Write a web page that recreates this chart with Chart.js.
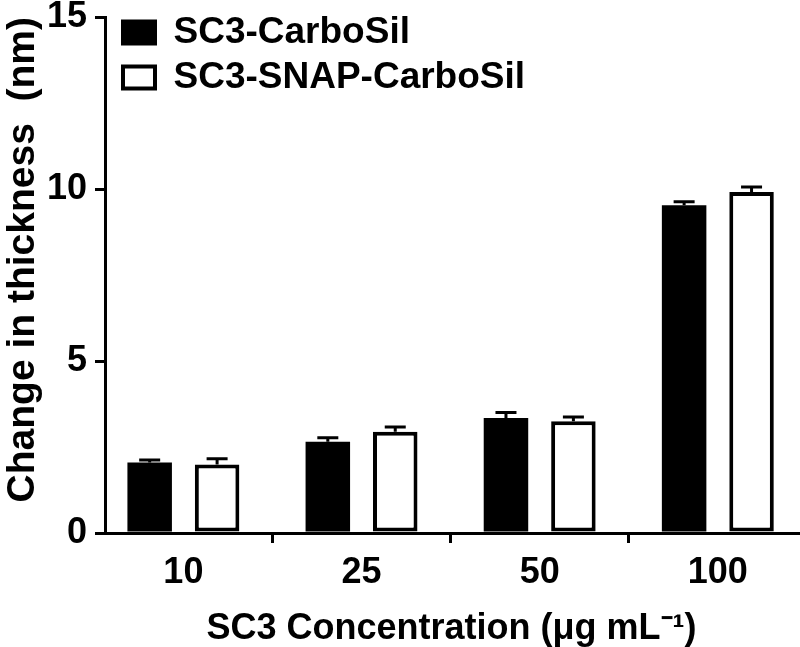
<!DOCTYPE html>
<html><head><meta charset="utf-8">
<script src="https://cdn.jsdelivr.net/npm/chart.js@4"></script>
<style>html,body{margin:0;padding:0;background:#fff}</style>
</head><body>
<canvas id="c" width="800" height="647" style="display:block"></canvas>
<script>
const categories = ['10', '25', '50', '100'];
const seriesNames = ['SC3-CarboSil', 'SC3-SNAP-CarboSil'];
const carbosil = [2.05, 2.65, 3.34, 9.53];
const snapCarbosil = [1.99, 2.94, 3.25, 9.91];
const carbosilErr = [0.07, 0.12, 0.16, 0.10];
const snapCarbosilErr = [0.17, 0.14, 0.12, 0.15];
const yTicks = [0, 5, 10, 15];
const xTitle = 'SC3 Concentration (\u03BCg mL\u207B\u00B9)';
const yTitle = 'Change in thickness  (nm)';

const FAM = "'Liberation Sans', Arial, sans-serif";
Chart.defaults.font.family = FAM;
const F = {family: FAM, size: 36, weight: 'bold'};

const errorBars = {
  id: 'errorBars',
  afterDatasetsDraw(chart) {
    const ctx = chart.ctx, ys = chart.scales.y;
    const errs = [carbosilErr, snapCarbosilErr];
    chart.data.datasets.forEach((ds, di) => {
      const meta = chart.getDatasetMeta(di);
      meta.data.forEach((bar, i) => {
        const v = ds.data[i].y;
        const top = ys.getPixelForValue(v + errs[di][i]);
        ctx.save();
        ctx.strokeStyle = '#000';
        ctx.lineWidth = 3;
        ctx.beginPath();
        ctx.moveTo(bar.x, bar.y);
        ctx.lineTo(bar.x, top);
        ctx.moveTo(bar.x - 10.5, top);
        ctx.lineTo(bar.x + 10.5, top);
        ctx.stroke();
        ctx.restore();
      });
    });
  }
};

const legendPos = {
  id: 'legendPos',
  afterLayout(chart) {
    const l = chart.legend;
    if (l) { l.left = 115; l.top = 6; }
  }
};

const axisGrid = {display: true, drawOnChartArea: false, drawTicks: true, tickLength: 10, lineWidth: 3, color: '#000'};
const axisBorder = {display: true, width: 3, color: '#000'};

new Chart(document.getElementById('c'), {
  type: 'bar',
  data: {
    datasets: [
      {label: seriesNames[0], data: categories.map((c, i) => ({x: i, y: carbosil[i]})),
       backgroundColor: '#000', borderColor: '#000', borderWidth: 0, borderSkipped: false,
       categoryPercentage: 0.757, barPercentage: 0.66},
      {label: seriesNames[1], data: categories.map((c, i) => ({x: i, y: snapCarbosil[i]})),
       backgroundColor: '#fff', borderColor: '#000', borderWidth: 4, borderSkipped: false,
       categoryPercentage: 0.757, barPercentage: 0.66}
    ]
  },
  options: {
    responsive: false,
    animation: false,
    devicePixelRatio: 1,
    layout: {padding: {top: 17, right: 2, left: 0, bottom: 0}},
    plugins: {
      tooltip: {enabled: false},
      legend: {
        position: 'chartArea', align: 'start',
        labels: {
          font: Object.assign({}, F, {size: 37}), color: '#000', boxWidth: 32, boxHeight: 22, padding: 8,
          generateLabels: chart => Chart.defaults.plugins.legend.labels.generateLabels(chart)
            .map(l => Object.assign(l, {lineWidth: 4, strokeStyle: '#000'}))
        }
      }
    },
    scales: {
      x: {
        type: 'linear', min: -0.44, max: 3.45, offset: false,
        afterBuildTicks: s => { s.ticks = categories.map((c, i) => ({value: i})); },
        afterFit: s => { s.height = 114; },
        ticks: {callback: v => categories[v], font: F, color: '#000', padding: 8, autoSkip: false, maxRotation: 0},
        grid: axisGrid, border: axisBorder,
        title: {display: true, text: xTitle, font: Object.assign({}, F, {lineHeight: 1.0}), color: '#000', padding: 0}
      },
      y: {
        min: 0, max: 15,
        afterBuildTicks: s => { s.ticks = yTicks.map(v => ({value: v})); },
        afterFit: s => { s.width = 105; },
        ticks: {font: Object.assign({}, F, {lineHeight: 0.4}), color: '#000', padding: 8},
        grid: axisGrid, border: axisBorder,
        title: {display: true, text: yTitle, align: 'end', font: Object.assign({}, F, {size: 39}), color: '#000', padding: 0}
      }
    }
  },
  plugins: [errorBars, legendPos]
});
</script>
</body></html>
